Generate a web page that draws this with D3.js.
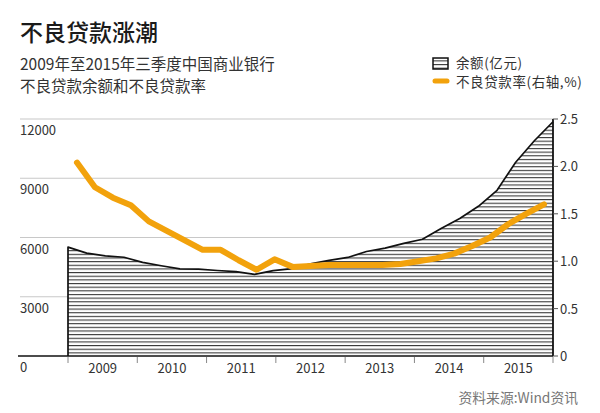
<!DOCTYPE html>
<html lang="zh">
<head>
  <meta charset="UTF-8">
  <title>不良贷款涨潮</title>
  <style>
    body { margin: 0; background: #fff; }
    svg { display: block; font-family: "Noto Sans CJK SC", "Noto Sans", sans-serif; }
  </style>
</head>
<body>
  <svg width="600" height="413"></svg>
  <script src="https://d3js.org/d3.v7.min.js"></script>
  <script>
    // 季度
    const quarters = ["2009Q1","2009Q2","2009Q3","2009Q4","2010Q1","2010Q2","2010Q3","2010Q4",
      "2011Q1","2011Q2","2011Q3","2011Q4","2012Q1","2012Q2","2012Q3","2012Q4",
      "2013Q1","2013Q2","2013Q3","2013Q4","2014Q1","2014Q2","2014Q3","2014Q4",
      "2015Q1","2015Q2","2015Q3"];
    // 不良贷款余额（亿元）
    const balance = [5510, 5210, 5070, 5000, 4740, 4570, 4410, 4400,
      4330, 4270, 4130, 4320, 4420, 4670, 4840, 4990,
      5290, 5460, 5700, 5910, 6460, 6960, 7580, 8390,
      9810, 10900, 11860];
    // 不良贷款率（%）
    const ratio = [2.04, 1.78, 1.67, 1.59, 1.42, 1.32, 1.22, 1.12,
      1.12, 1.01, 0.91, 1.02, 0.94, 0.95, 0.96, 0.96,
      0.96, 0.96, 0.97, 1.00, 1.03, 1.08, 1.16, 1.25,
      1.39, 1.50, 1.60];
    const years = ["2009","2010","2011","2012","2013","2014","2015"];
    const leftTicks = [0, 3000, 6000, 9000, 12000];
    const rightTicks = [0, 0.5, 1.0, 1.5, 2.0, 2.5];

    const svg = d3.select("svg");
    const x0 = 68, x1 = 553, yTop = 119, yBot = 356;
    const orange = "#F2A20C";

    // 标题
    svg.append("text").attr("x", 20).attr("y", 41)
      .attr("font-size", 23).attr("font-weight", 500).attr("fill", "#1a1a1a")
      .text("不良贷款涨潮");
    svg.append("text").attr("x", 20).attr("y", 70)
      .attr("font-size", 15.5).attr("fill", "#333")
      .text("2009年至2015年三季度中国商业银行");
    svg.append("text").attr("x", 20).attr("y", 92)
      .attr("font-size", 15.5).attr("fill", "#333")
      .text("不良贷款余额和不良贷款率");

    // 横线纹理
    const defs = svg.append("defs");
    const pat = defs.append("pattern").attr("id", "hatch")
      .attr("patternUnits", "userSpaceOnUse")
      .attr("width", 8).attr("height", 3.65)
      .attr("y", yBot);
    pat.append("rect").attr("width", 8).attr("height", 3.65).attr("fill", "#fff");
    pat.append("rect").attr("y", 0).attr("width", 8).attr("height", 1.1).attr("fill", "#3a3a3a");

    // 比例尺
    const yL = d3.scaleLinear().domain([0, 12000]).range([yBot, yTop]);
    const yR = d3.scaleLinear().domain([0, 2.5]).range([yBot, yTop]);
    const xArea = d3.scalePoint().domain(quarters).range([x0, x1]);
    const xLine = d3.scalePoint().domain(quarters).range([x0, x1]).padding(0.5);
    const xYear = d3.scaleBand().domain(years).range([x0, x1]);

    // 网格线
    svg.append("g").selectAll("line").data(leftTicks.filter(d => d > 0)).join("line")
      .attr("x1", 20).attr("x2", x1)
      .attr("y1", d => yL(d)).attr("y2", d => yL(d))
      .attr("stroke", "#c8c8c8").attr("stroke-width", 1.2);

    // 左轴标签
    svg.append("g").selectAll("text").data(leftTicks).join("text")
      .attr("x", 20).attr("y", d => yL(d) + 16)
      .attr("font-size", 13).attr("fill", "#333")
      .text(d => d);

    // 面积
    const area = d3.area()
      .x((d, i) => xArea(quarters[i]))
      .y0(yBot).y1(d => yL(d));
    svg.append("path").datum(balance)
      .attr("d", area).attr("fill", "url(#hatch)");
    const outline = d3.line()
      .x((d, i) => xArea(quarters[i])).y(d => yL(d));
    svg.append("path").datum(balance)
      .attr("d", "M" + x0 + "," + yBot + "L" + outline(balance).slice(1))
      .attr("fill", "none").attr("stroke", "#111").attr("stroke-width", 1.7)
      .attr("stroke-linejoin", "round");

    // 底线
    svg.append("line").attr("x1", 18).attr("x2", x1)
      .attr("y1", yBot).attr("y2", yBot)
      .attr("stroke", "#111").attr("stroke-width", 1.6);

    // 年份刻度
    svg.append("g").selectAll("line").data(d3.range(years.length + 1)).join("line")
      .attr("x1", i => x0 + i * xYear.step()).attr("x2", i => x0 + i * xYear.step())
      .attr("y1", yBot + 1).attr("y2", yBot + 7)
      .attr("stroke", "#888").attr("stroke-width", 1);
    svg.append("g").selectAll("text").data(years).join("text")
      .attr("x", d => xYear(d) + xYear.bandwidth() / 2).attr("y", 373)
      .attr("text-anchor", "middle").attr("font-size", 13).attr("fill", "#333")
      .text(d => d);

    // 右轴
    svg.append("line").attr("x1", x1).attr("x2", x1)
      .attr("y1", yTop).attr("y2", yBot)
      .attr("stroke", "#111").attr("stroke-width", 1.8);
    svg.append("g").selectAll("line").data(rightTicks).join("line")
      .attr("x1", x1).attr("x2", x1 + 5)
      .attr("y1", d => yR(d)).attr("y2", d => yR(d))
      .attr("stroke", "#555").attr("stroke-width", 1);
    svg.append("g").selectAll("text").data(rightTicks).join("text")
      .attr("x", 560).attr("y", d => yR(d) + 5)
      .attr("font-size", 13).attr("fill", "#333")
      .text(d => d === 0 ? "0" : d.toFixed(1));

    // 不良贷款率折线
    const line = d3.line()
      .x((d, i) => xLine(quarters[i])).y(d => yR(d));
    svg.append("path").datum(ratio)
      .attr("d", line).attr("fill", "none")
      .attr("stroke", orange).attr("stroke-width", 6)
      .attr("stroke-linejoin", "round").attr("stroke-linecap", "round");

    // 图例
    svg.append("rect").attr("x", 433).attr("y", 58).attr("width", 15).attr("height", 11)
      .attr("fill", "url(#hatch)").attr("stroke", "#111").attr("stroke-width", 1.5);
    svg.append("text").attr("x", 456).attr("y", 68)
      .attr("font-size", 13.5).attr("letter-spacing", 0.6).attr("fill", "#333").text("余额(亿元)");
    svg.append("line").attr("x1", 435).attr("x2", 447).attr("y1", 81).attr("y2", 81)
      .attr("stroke", orange).attr("stroke-width", 5).attr("stroke-linecap", "round");
    svg.append("text").attr("x", 456).attr("y", 87)
      .attr("font-size", 13.5).attr("letter-spacing", 0.6).attr("fill", "#333").text("不良贷款率(右轴,%)");

    // 资料来源
    svg.append("text").attr("x", 578).attr("y", 403)
      .attr("text-anchor", "end").attr("font-size", 13.8).attr("fill", "#777")
      .text("资料来源:Wind资讯");
  </script>
</body>
</html>
